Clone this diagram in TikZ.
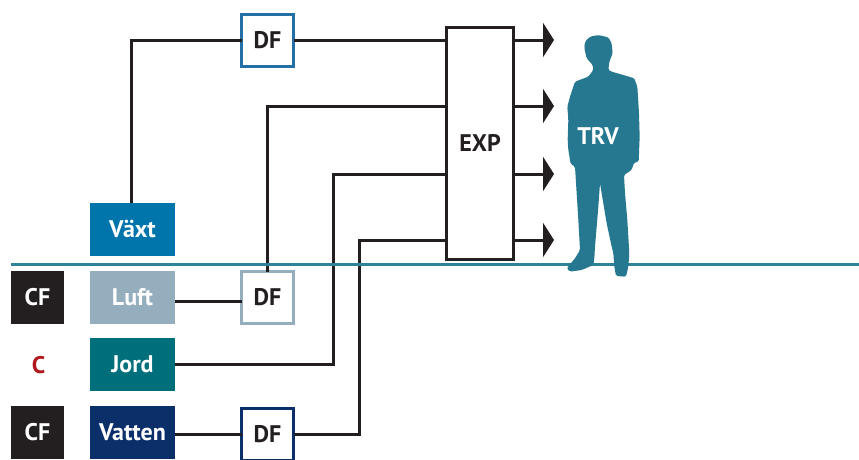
\documentclass[tikz,border=0pt]{standalone}
\usepackage{fontspec}
\setmainfont{PT Sans}
\usepackage{xcolor}
\usetikzlibrary{arrows.meta, positioning, calc}
\definecolor{RiskBlack}{RGB}{35, 31, 32}
\definecolor{RiskRed}{RGB}{176, 24, 30}
\definecolor{RiskPlant}{RGB}{0, 117, 171}
\definecolor{RiskAir}{RGB}{149, 174, 190}
\definecolor{RiskSoil}{RGB}{0, 111, 124}
\definecolor{RiskWater}{RGB}{11, 47, 105}
\definecolor{RiskGround}{RGB}{46, 130, 153}
\definecolor{RiskMan}{RGB}{37, 120, 143}
\definecolor{RiskDFTop}{RGB}{34, 112, 165}
\tikzset{
  labeltext/.style={font=\fontsize{24}{26}\selectfont\bfseries},
  media/.style={labeltext, minimum width=85pt, minimum height=53pt, outer sep=0pt, inner sep=0pt, text=white},
  factorbox/.style={labeltext, fill=RiskBlack, minimum width=53pt, minimum height=53pt, outer sep=0pt, inner sep=0pt, text=white},
  dfbox/.style={labeltext, draw=#1, fill=white, line width=3pt, minimum width=52pt, minimum height=52pt, outer sep=0pt, inner sep=0pt, text=RiskBlack},
  link/.style={RiskBlack, line width=3pt},
  outarrow/.style={RiskBlack, line width=3pt, -{Triangle[length=11pt,width=34pt]}}
}
\begin{document}
\begin{tikzpicture}[x=1pt,y=-1pt]
  \path[use as bounding box] (0,0) rectangle (859,459);

  \node[media, fill=RiskPlant] (vaxt) at (132.5,229.5) {Växt};
  \node[media, fill=RiskAir] (luft) at (132.5,297.5) {Luft};
  \node[media, fill=RiskSoil] (jord) at (132.5,364.5) {Jord};
  \node[media, fill=RiskWater] (vatten) at (132.5,432.5) {Vatten};

  \node[factorbox] (cfluft) at (37.5,297.5) {CF};
  \node[labeltext, text=RiskRed] (cjord) at (38.5,365) {C};
  \node[factorbox] (cfvatten) at (37.5,432.5) {CF};

  \node[dfbox=RiskDFTop] (dftop) at (267.5,40) {DF};
  \node[dfbox=RiskAir] (dfluft) at (267.5,297.5) {DF};
  \node[dfbox=RiskWater] (dfvatten) at (267.5,434) {DF};

  \node[labeltext, draw=RiskBlack, fill=white, line width=3pt, minimum width=67pt, minimum height=232pt, outer sep=0pt, text=RiskBlack] (exp) at (480,143) {EXP};

  \coordinate (inA) at (exp.west |- dftop);
  \coordinate (inB) at (exp.west |- 0,106);
  \coordinate (inC) at (exp.west |- 0,174);
  \coordinate (inD) at (exp.west |- 0,240);
  \coordinate (tipA) at (554,40);
  \coordinate (tipB) at (554,106);
  \coordinate (tipC) at (554,174);
  \coordinate (tipD) at (554,240);

  \draw[link] ([xshift=-1.5pt]vaxt.north) |- (dftop.west);
  \draw[link] (dftop.east) -- (inA);
  \draw[link] (dfluft.north) |- (inB);
  \draw[link] (jord.east) -- ++(158,0) |- (inC);
  \draw[link] (dfvatten.east) -- ++(65.5,0) |- (inD);
  \draw[link] ([yshift=-4pt]luft.east) -- ([yshift=-4pt]dfluft.west);
  \draw[link] (vatten.east |- dfvatten) -- (dfvatten.west);

  \draw[outarrow] (exp.east |- tipA) -- (tipA);
  \draw[outarrow] (exp.east |- tipB) -- (tipB);
  \draw[outarrow] (exp.east |- tipC) -- (tipC);
  \draw[outarrow] (exp.east |- tipD) -- (tipD);

  \draw[RiskGround, line width=3pt] (11,264) -- (859,264);

  \fill[RiskMan, shift={(540,20)}, scale=1/3, rounded corners=1.5pt]
    (160,150) -- (158,135) -- (140,115) -- (133,85) -- (135,65) -- (150,50) -- (175,45)
    -- (205,52) -- (215,70) -- (218,100) -- (208,125) -- (205,150) -- (215,155) -- (250,165)
    -- (283,175) -- (292,200) -- (297,280) -- (299,350) -- (296,425) -- (282,428) -- (275,450)
    -- (252,465) -- (255,520) -- (262,600) -- (268,700) -- (265,740) -- (258,770) -- (228,768)
    -- (223,740) -- (220,700) -- (215,680) -- (200,610) -- (180,490) -- (175,560) -- (165,680)
    -- (163,715) -- (160,735) -- (125,750) -- (90,755) -- (80,745) -- (105,715) -- (120,690)
    -- (115,600) -- (105,440) -- (92,432) -- (85,390) -- (83,360) -- (85,300) -- (82,260)
    -- (90,230) -- (105,185) -- (145,170) -- cycle;
  \node[labeltext, text=white] (trv) at (598,136) {TRV};
\end{tikzpicture}
\end{document}
